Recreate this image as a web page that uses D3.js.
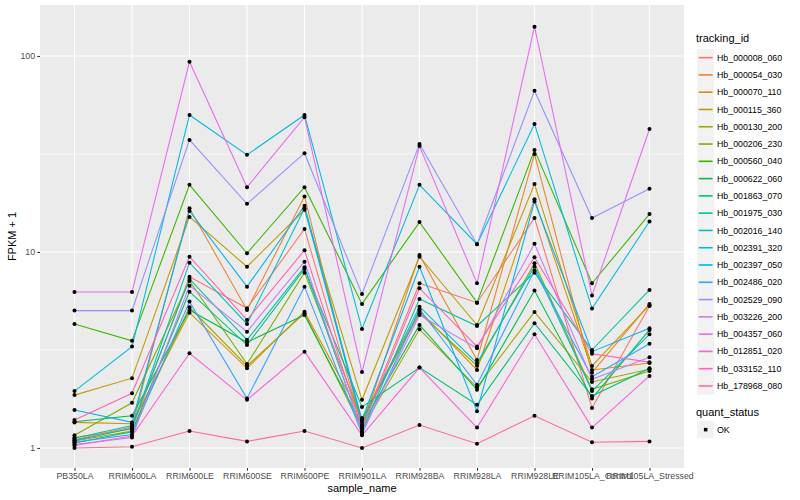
<!DOCTYPE html>
<meta charset="utf-8">
<script src="https://d3js.org/d3.v7.min.js"></script>
<style>
  body { margin: 0; background: #fff; }
  text { font-family: "Liberation Sans", Arial, sans-serif; }
</style>
<svg id="chart" width="800" height="500"></svg>
<script>

// sample names along the x axis
const samples = ["PB350LA", "RRIM600LA", "RRIM600LE", "RRIM600SE", "RRIM600PE", "RRIM901LA",
  "RRIM928BA", "RRIM928LA", "RRIM928LE", "RRIM105LA_Control", "RRIM105LA_Stressed"];

const trackingIds = ["Hb_000008_060", "Hb_000054_030", "Hb_000070_110", "Hb_000115_360",
  "Hb_000130_200", "Hb_000206_230", "Hb_000560_040", "Hb_000622_060", "Hb_001863_070",
  "Hb_001975_030", "Hb_002016_140", "Hb_002391_320", "Hb_002397_050", "Hb_002486_020",
  "Hb_002529_090", "Hb_003226_200", "Hb_004357_060", "Hb_012851_020", "Hb_033152_110",
  "Hb_178968_080"];

// FPKM + 1, one row per tracking_id, one value per sample
const fpkm = [
  [1.13, 1.25, 7.48, 5.16, 13.1, 1.30, 6.92, 5.51, 14.9, 1.60, 5.30],
  [1.10, 1.28, 16.7, 5.06, 19.2, 1.28, 9.65, 2.81, 31.6, 2.42, 5.43],
  [1.35, 1.33, 4.90, 2.55, 4.96, 1.42, 5.00, 2.50, 18.6, 2.50, 2.71],
  [1.86, 2.27, 15.1, 8.41, 16.4, 1.76, 9.46, 4.24, 22.2, 2.62, 5.35],
  [1.085, 1.22, 5.22, 2.62, 4.87, 1.25, 4.03, 2.04, 4.94, 2.17, 2.52],
  [1.16, 1.70, 7.11, 2.68, 7.84, 1.39, 4.87, 2.63, 8.76, 1.99, 2.47],
  [4.29, 3.52, 22.0, 9.85, 21.4, 5.43, 14.2, 5.51, 33.1, 6.92, 15.6],
  [1.36, 1.46, 5.06, 3.46, 4.77, 1.31, 4.24, 1.98, 6.35, 1.79, 4.00],
  [1.06, 1.21, 6.27, 3.35, 8.19, 1.62, 2.57, 1.66, 4.33, 1.84, 2.55],
  [1.12, 1.30, 7.28, 3.56, 8.36, 1.22, 5.76, 4.19, 7.84, 3.16, 6.40],
  [1.09, 1.26, 8.82, 4.29, 16.7, 1.35, 5.26, 2.71, 8.41, 1.95, 3.80],
  [1.95, 3.29, 50.0, 31.3, 50.0, 4.05, 22.0, 10.95, 45.0, 5.14, 14.3],
  [1.56, 1.35, 16.2, 6.65, 17.2, 1.39, 8.41, 1.54, 18.1, 3.10, 4.08],
  [1.07, 1.17, 5.58, 1.79, 6.65, 1.18, 5.10, 2.10, 8.03, 2.31, 3.40],
  [5.02, 5.02, 37.3, 17.6, 31.9, 6.10, 35.6, 10.95, 66.5, 14.9, 21.0],
  [1.04, 1.13, 6.73, 3.92, 8.92, 1.20, 4.77, 3.23, 11.0, 2.24, 2.90],
  [6.25, 6.25, 93.5, 21.4, 48.7, 2.44, 34.7, 6.92, 141, 5.99, 42.4],
  [1.03, 1.15, 3.04, 1.76, 3.10, 1.16, 2.57, 1.27, 3.80, 1.27, 2.33],
  [1.39, 1.90, 9.46, 4.50, 10.2, 1.26, 6.53, 3.29, 9.40, 3.02, 2.74],
  [1.00, 1.015, 1.22, 1.08, 1.22, 1.00, 1.31, 1.05, 1.46, 1.07, 1.08]
];

const yTicks = [1, 10, 100];
const yMinor = [Math.sqrt(10), Math.sqrt(1000)];

// ggplot default hue palette for 20 levels
const palette = ["#F8766D", "#EA8331", "#D89000", "#C09B00", "#A3A500", "#7CAE00", "#39B600",
  "#00BB4E", "#00BF7D", "#00C1A3", "#00BFC4", "#00BAE0", "#00B0F6", "#35A2FF", "#9590FF",
  "#C77CFF", "#E76BF3", "#FA62DB", "#FF62BC", "#FF6C91"];

const svg = d3.select("#chart");
const panel = {left: 40, right: 684, top: 5, bottom: 468};

const x = d3.scalePoint()
  .domain(samples)
  .range([panel.left, panel.right])
  .padding(0.6);

const y = d3.scaleLog()
  .domain([0.79, 182])
  .range([panel.bottom, panel.top]);

const color = d3.scaleOrdinal().domain(trackingIds).range(palette);

// panel background
svg.append("rect")
  .attr("x", panel.left).attr("y", panel.top)
  .attr("width", panel.right - panel.left).attr("height", panel.bottom - panel.top)
  .attr("fill", "#EBEBEB");

// grid lines
const grid = svg.append("g");
grid.selectAll(".minor")
  .data(yMinor)
  .join("line")
    .attr("x1", panel.left).attr("x2", panel.right)
    .attr("y1", d => y(d)).attr("y2", d => y(d))
    .attr("stroke", "#fff").attr("stroke-width", 0.55);
grid.selectAll(".major")
  .data(yTicks)
  .join("line")
    .attr("x1", panel.left).attr("x2", panel.right)
    .attr("y1", d => y(d)).attr("y2", d => y(d))
    .attr("stroke", "#fff").attr("stroke-width", 1.1);
grid.selectAll(".vert")
  .data(samples)
  .join("line")
    .attr("x1", d => x(d)).attr("x2", d => x(d))
    .attr("y1", panel.top).attr("y2", panel.bottom)
    .attr("stroke", "#fff").attr("stroke-width", 1.1);

// lines per tracking_id
const line = d3.line()
  .x((d, i) => x(samples[i]))
  .y(d => y(d));

svg.append("g")
  .selectAll("path")
  .data(fpkm)
  .join("path")
    .attr("d", line)
    .attr("fill", "none")
    .attr("stroke", (d, i) => color(trackingIds[i]))
    .attr("stroke-width", 1.07);

// points (quant_status OK)
const pts = [];
fpkm.forEach(row => row.forEach((v, j) => pts.push({s: samples[j], v: v})));
svg.append("g")
  .selectAll("circle")
  .data(pts)
  .join("circle")
    .attr("cx", d => x(d.s))
    .attr("cy", d => y(d.v))
    .attr("r", 2)
    .attr("fill", "#000");

// y axis
const yAxis = svg.append("g")
  .attr("transform", `translate(${panel.left},0)`)
  .call(d3.axisLeft(y).tickValues(yTicks).tickFormat(d3.format("d")).tickSize(2.7).tickPadding(2.2));
yAxis.select(".domain").remove();
yAxis.selectAll(".tick line").attr("stroke", "#333").attr("stroke-width", 1.07);
yAxis.selectAll(".tick text").attr("fill", "#4D4D4D").style("font-size", "8.8px")
  .style("font-family", "'Liberation Sans', Arial, sans-serif");

// x axis
const xAxis = svg.append("g")
  .attr("transform", `translate(0,${panel.bottom})`)
  .call(d3.axisBottom(x).tickSize(2.7).tickPadding(2.2));
xAxis.select(".domain").remove();
xAxis.selectAll(".tick line").attr("stroke", "#333").attr("stroke-width", 1.07);
xAxis.selectAll(".tick text").attr("fill", "#4D4D4D").style("font-size", "8.8px")
  .style("font-family", "'Liberation Sans', Arial, sans-serif");

// axis titles
svg.append("text")
  .attr("x", (panel.left + panel.right) / 2).attr("y", 492)
  .attr("text-anchor", "middle").style("font-size", "11px").attr("fill", "#000")
  .text("sample_name");
svg.append("text")
  .attr("transform", `translate(16,${(panel.top + panel.bottom) / 2}) rotate(-90)`)
  .attr("text-anchor", "middle").style("font-size", "11px").attr("fill", "#000")
  .text("FPKM + 1");

// legend: tracking_id
const leg = svg.append("g").attr("transform", "translate(697,0)");
leg.append("text").attr("x", -1).attr("y", 42).style("font-size", "11px").text("tracking_id");
const keyH = 17.28;
const keys = leg.selectAll(".key")
  .data(trackingIds)
  .join("g")
    .attr("transform", (d, i) => `translate(0,${49 + i * keyH})`);
keys.append("rect")
  .attr("width", 17.28).attr("height", 17.28).attr("fill", "#F2F2F2");
keys.append("line")
  .attr("x1", 1.7).attr("x2", 15.6).attr("y1", 8.64).attr("y2", 8.64)
  .attr("stroke", d => color(d)).attr("stroke-width", 1.6);
keys.append("text")
  .attr("x", 20).attr("y", 8.64).attr("dy", "0.35em")
  .style("font-size", "8.8px").text(d => d);

// legend: quant_status
leg.append("text").attr("x", -1).attr("y", 416).style("font-size", "11px").text("quant_status");
const ok = leg.append("g").attr("transform", "translate(0,421)");
ok.append("rect").attr("width", 17.28).attr("height", 17.28).attr("fill", "#F2F2F2");
ok.append("rect").attr("x", 6.9).attr("y", 6.9).attr("width", 3.5).attr("height", 3.5).attr("fill", "#000");
ok.append("text").attr("x", 20).attr("y", 8.64).attr("dy", "0.35em")
  .style("font-size", "8.8px").text("OK");
</script>
